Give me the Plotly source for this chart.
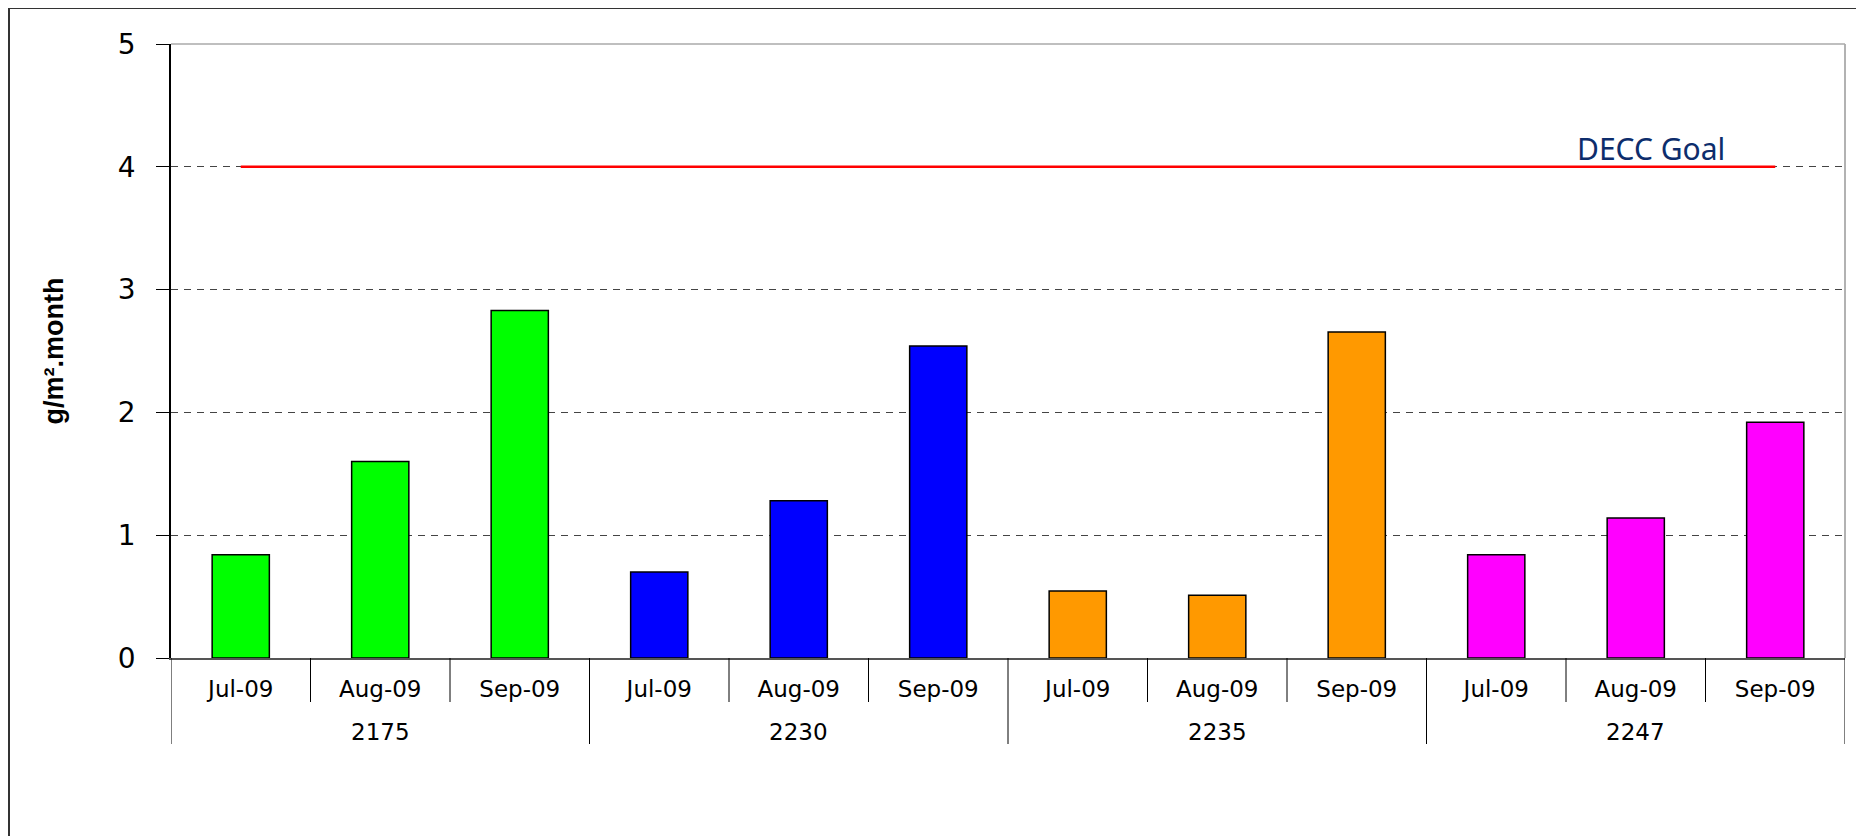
import plotly.graph_objects as go

# ---- data ----
groups = ["2175", "2230", "2235", "2247"]
months = ["Jul-09", "Aug-09", "Sep-09"]
values_2175 = [0.84, 1.60, 2.83]
values_2230 = [0.70, 1.28, 2.54]
values_2235 = [0.545, 0.51, 2.655]
values_2247 = [0.84, 1.14, 1.92]
group_colors = ["#00FF00", "#0000FF", "#FF9900", "#FF00FF"]
goal_value = 4
goal_label = "DECC Goal"
y_title = "g/m².month"
y_ticks = [0, 1, 2, 3, 4, 5]

series = [values_2175, values_2230, values_2235, values_2247]
n_m = len(months)
n_total = n_m * len(groups)

fig = go.Figure()

for gi, (g, vals, col) in enumerate(zip(groups, series, group_colors)):
    xs = [gi * n_m + mi for mi in range(n_m)]
    fig.add_trace(go.Bar(
        x=xs, y=vals, name=g, width=0.41,
        marker=dict(color=col, line=dict(color="black", width=1.5)),
        showlegend=False,
    ))

fig.add_trace(go.Scatter(
    x=[0, n_total - 1], y=[goal_value, goal_value], mode="lines",
    line=dict(color="#FF0000", width=2.5), showlegend=False, hoverinfo="skip",
))

ML, MT, PW, PH = 163, 36, 1674, 614
shapes = []
for k in range(n_total + 1):
    is_group = (k % n_m == 0)
    shapes.append(dict(
        type="line", xref="x", yref="paper",
        x0=k - 0.5, x1=k - 0.5, y0=0,
        y1=-(86 if is_group else 44) / PH,
        line=dict(color="black", width=1),
    ))
# top and right plot border (gray)
shapes.append(dict(type="line", xref="paper", yref="paper", x0=1, x1=1, y0=0, y1=1,
                   line=dict(color="#999999", width=1.5)))
shapes.append(dict(type="line", xref="paper", yref="paper", x0=0, x1=1, y0=1, y1=1,
                   line=dict(color="#AAAAAA", width=1.5)))
# outer chart frame
shapes.append(dict(type="rect", xref="paper", yref="paper",
                   x0=(1 - ML) / PW, x1=(1853 - ML) / PW,
                   y0=(MT + PH - 845) / PH, y1=(MT + PH + 0) / PH,
                   line=dict(color="#333333", width=2), fillcolor="rgba(0,0,0,0)"))

annotations = []
for gi, g in enumerate(groups):
    annotations.append(dict(
        x=gi * n_m + (n_m - 1) / 2, y=-74 / PH, xref="x", yref="paper",
        text=g, showarrow=False, yanchor="middle",
        font=dict(family="DejaVu Sans", size=23, color="black"),
    ))
annotations.append(dict(
    x=n_total - 1.89, y=goal_value, xref="x", yref="y", text=goal_label,
    showarrow=False, yanchor="bottom", yshift=-4,
    font=dict(family="Noto Sans", size=30, color="#0D2D6C"),
))

fig.update_layout(
    width=1864, height=836,
    margin=dict(l=ML, r=1864 - ML - PW, t=MT, b=836 - MT - PH, autoexpand=False),
    paper_bgcolor="white", plot_bgcolor="white",
    bargap=0.59,
    shapes=shapes, annotations=annotations,
    xaxis=dict(
        range=[-0.5, n_total - 0.5],
        tickmode="array",
        tickvals=list(range(n_total)),
        ticktext=months * len(groups),
        ticks="", showgrid=False, zeroline=False,
        showline=True, linecolor="#555555", linewidth=1.5,
        tickfont=dict(family="DejaVu Sans", size=23, color="black"),
        ticklabelstandoff=10,
    ),
    yaxis=dict(
        range=[0, 5],
        tickmode="array", tickvals=y_ticks,
        ticks="outside", ticklen=13, tickcolor="black", tickwidth=1,
        showline=True, linecolor="black", linewidth=1.5,
        showgrid=True, gridcolor="#444444", gridwidth=1, griddash="7px,6px",
        zeroline=False,
        tickfont=dict(family="DejaVu Sans", size=28, color="black"),
        ticklabelstandoff=15,
        title=dict(text=y_title, standoff=46,
                   font=dict(family="Liberation Sans", size=27, color="black", weight="bold")),
    ),
)

fig.write_html("out.html")
